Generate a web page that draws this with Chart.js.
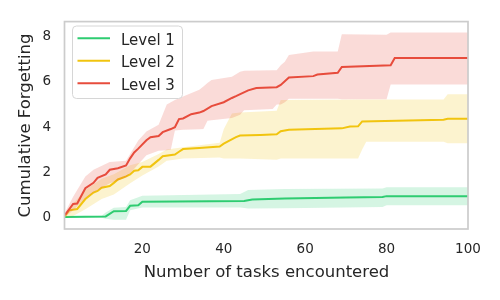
<!DOCTYPE html>
<html>
<head>
<meta charset="utf-8">
<script src="https://cdn.jsdelivr.net/npm/chart.js@4.4.1/dist/chart.umd.min.js"></script>
<style>
  html, body { margin: 0; padding: 0; background: #fff; }
  canvas { display: block; }
</style>
</head>
<body>
<canvas id="myChart1" width="500" height="300"></canvas>
<script>
// Level 1 (mean line + band)
const level1X = [1, 11, 13, 16, 17, 19, 20, 45, 47, 55, 70, 79, 80, 100];
const level1Mean = [0, 0.03, 0.26, 0.27, 0.5, 0.52, 0.68, 0.71, 0.78, 0.82, 0.87, 0.89, 0.93, 0.93];
const level1BandX = [1, 10, 11, 13, 16, 17, 20, 44, 46, 55, 79, 80, 100];
const level1Lower = [0, -0.03, -0.08, -0.12, -0.12, 0.3, 0.42, 0.42, 0.38, 0.39, 0.45, 0.52, 0.52];
const level1Upper = [0, 0.06, 0.2, 0.41, 0.45, 0.75, 0.95, 1.02, 1.2, 1.25, 1.27, 1.32, 1.32];

// Level 2
const level2X = [1, 2, 4, 6, 8, 9, 10, 12, 13, 14, 16, 17, 18, 19, 20, 22, 24, 25, 28, 29, 30, 34, 39, 40, 43, 44, 49, 53, 54, 56, 69, 71, 73, 74, 94, 95, 100];
const level2Mean = [0.05, 0.3, 0.36, 0.8, 1.09, 1.16, 1.3, 1.38, 1.52, 1.67, 1.81, 1.89, 2.06, 2.08, 2.23, 2.24, 2.54, 2.7, 2.78, 2.9, 3.02, 3.07, 3.13, 3.26, 3.55, 3.62, 3.65, 3.68, 3.81, 3.88, 3.94, 4.02, 4.03, 4.25, 4.32, 4.37, 4.37];
const level2BandX = [1, 3, 6, 10, 13, 17, 20, 24, 26, 30, 39, 40, 42, 44, 53, 54, 73, 74, 75, 94, 95, 100];
const level2Lower = [0, 0.05, 0.35, 0.8, 1.0, 1.5, 1.85, 2.25, 2.5, 2.6, 2.65, 2.6, 2.6, 2.6, 2.55, 2.6, 2.6, 3.0, 3.35, 3.35, 3.28, 3.28];
const level2Upper = [0.1, 0.6, 1.2, 1.7, 1.9, 2.3, 2.45, 2.8, 3.0, 3.1, 3.3, 3.9, 4.6, 4.65, 4.72, 5.2, 5.22, 5.22, 5.22, 5.22, 5.45, 5.45];

// Level 3
const level3X = [1, 3, 4, 6, 8, 9, 11, 12, 14, 16, 17, 18, 19, 21, 22, 24, 25, 27, 28, 29, 30, 32, 34, 35, 37, 40, 42, 43, 46, 48, 53, 54, 56, 62, 63, 68, 69, 81, 82, 100];
const level3Mean = [0.1, 0.58, 0.6, 1.28, 1.52, 1.74, 1.89, 2.1, 2.17, 2.29, 2.61, 2.87, 3.04, 3.41, 3.55, 3.6, 3.77, 3.91, 3.99, 4.35, 4.38, 4.57, 4.64, 4.71, 4.93, 5.1, 5.29, 5.37, 5.63, 5.73, 5.77, 5.87, 6.2, 6.26, 6.33, 6.41, 6.67, 6.74, 7.06, 7.06];
const level3BandX = [1, 3, 6, 8, 12, 16, 17, 19, 21, 24, 26, 27, 28, 30, 34, 35, 36, 37, 42, 44, 45, 52, 53, 54, 55, 56, 62, 68, 69, 80, 81, 100];
const level3Lower = [0, 0.3, 0.85, 1.1, 1.5, 1.75, 1.95, 2.35, 2.75, 2.95, 2.97, 3.0, 3.84, 3.88, 3.9, 3.91, 4.28, 4.3, 4.4, 4.55, 4.75, 4.8, 5.0, 5.0, 5.1, 5.25, 5.25, 5.25, 5.23, 5.23, 5.89, 5.89];
const level3Upper = [0.2, 0.9, 1.8, 2.1, 2.45, 2.5, 2.8, 3.4, 3.8, 4.1, 5.0, 5.1, 5.2, 5.36, 5.65, 5.8, 5.95, 6.09, 6.23, 6.45, 6.5, 6.52, 6.52, 6.74, 6.9, 7.2, 7.35, 7.35, 8.12, 8.1, 8.2, 8.2];

const seriesLabels = ["Level 1", "Level 2", "Level 3"];
const seriesColors = ["#2ecc71", "#f1c40f", "#e74c3c"];
const bandColors = ["rgba(46,204,113,0.2)", "rgba(241,196,15,0.2)", "rgba(231,76,60,0.2)"];
const xTicks = [20, 40, 60, 80, 100];
const yTicks = [0, 2, 4, 6, 8];

const textColor = "#262626";
Chart.defaults.font.family = "'DejaVu Sans', sans-serif";
Chart.defaults.color = textColor;

const series = [
  { x: level1X, mean: level1Mean, bx: level1BandX, lo: level1Lower, hi: level1Upper },
  { x: level2X, mean: level2Mean, bx: level2BandX, lo: level2Lower, hi: level2Upper },
  { x: level3X, mean: level3Mean, bx: level3BandX, lo: level3Lower, hi: level3Upper },
];

const pts = (xs, ys) => xs.map((x, i) => ({ x: x, y: ys[i] }));

// green at the bottom, red on top, each line above its band
const datasets = [];
series.forEach((s, k) => {
  const base = datasets.length;
  const order = 10 - k * 3;
  datasets.push({
    label: seriesLabels[k] + " upper", data: pts(s.bx, s.hi),
    borderWidth: 0, pointRadius: 0, backgroundColor: bandColors[k],
    fill: base + 1, order: order, band: true,
  });
  datasets.push({
    label: seriesLabels[k] + " lower", data: pts(s.bx, s.lo),
    borderWidth: 0, pointRadius: 0, fill: false, order: order, band: true,
  });
  datasets.push({
    label: seriesLabels[k], data: pts(s.x, s.mean),
    borderColor: seriesColors[k], borderWidth: 2, pointRadius: 0,
    fill: false, order: order - 1,
  });
});

// spines + legend box like matplotlib
const framePlugin = {
  id: "frame",
  afterDatasetsDraw(chart) {
    const a = chart.chartArea;
    const c = chart.ctx;
    c.save();
    c.strokeStyle = "#cccccc";
    c.lineWidth = 1.7;
    c.strokeRect(a.left - 0.5, a.top - 0.5, a.right - a.left + 0.5, a.bottom - a.top + 0.5);
    c.restore();
  },
  afterDraw(chart) {
    const c = chart.ctx;
    c.save();
    c.fillStyle = "rgba(255,255,255,0.8)";
    c.strokeStyle = "#d6d6d6";
    c.lineWidth = 1;
    c.beginPath();
    c.roundRect(72.5, 26, 110, 72.5, 4);
    c.fill();
    c.stroke();
    c.font = "15px 'DejaVu Sans'";
    c.textBaseline = "alphabetic";
    c.textAlign = "left";
    seriesLabels.forEach((lab, i) => {
      const yy = 38.3 + i * 22.5;
      c.strokeStyle = seriesColors[i];
      c.lineWidth = 2;
      c.beginPath();
      c.moveTo(77.5, yy);
      c.lineTo(110, yy);
      c.stroke();
      c.fillStyle = textColor;
      c.fillText(lab, 121, yy + 6.6);
    });
    c.restore();
  },
};

const ctx = document.getElementById("myChart1").getContext("2d");
new Chart(ctx, {
  type: "line",
  data: { datasets: datasets },
  plugins: [framePlugin],
  options: {
    responsive: false,
    animation: false,
    devicePixelRatio: 1,
    layout: { padding: { top: 18, right: 32, left: 0, bottom: 0 } },
    plugins: { legend: { display: false }, tooltip: { enabled: false } },
    elements: { line: { tension: 0 } },
    scales: {
      x: {
        type: "linear", min: 1, max: 100,
        afterBuildTicks: (s) => { s.ticks = xTicks.map((v) => ({ value: v })); },
        afterFit: (s) => { s.height = 71; },
        grid: { display: false, drawTicks: false },
        border: { display: false },
        ticks: { padding: 12, font: { size: 13.5 }, color: textColor, maxRotation: 0, autoSkip: false },
        title: { display: true, text: "Number of tasks encountered", font: { size: 16.5 }, color: textColor, padding: { top: 0, bottom: 17 } },
      },
      y: {
        type: "linear", min: -0.53, max: 8.66,
        afterBuildTicks: (s) => { s.ticks = yTicks.map((v) => ({ value: v })); },
        afterFit: (s) => { s.width = 65; },
        grid: { display: false, drawTicks: false },
        border: { display: false },
        ticks: { padding: 14, font: { size: 13.5 }, color: textColor },
        title: { display: true, text: "Cumulative Forgetting", font: { size: 16.5 }, color: textColor, padding: { top: 16, bottom: 0 } },
      },
    },
  },
});
</script>
</body>
</html>
